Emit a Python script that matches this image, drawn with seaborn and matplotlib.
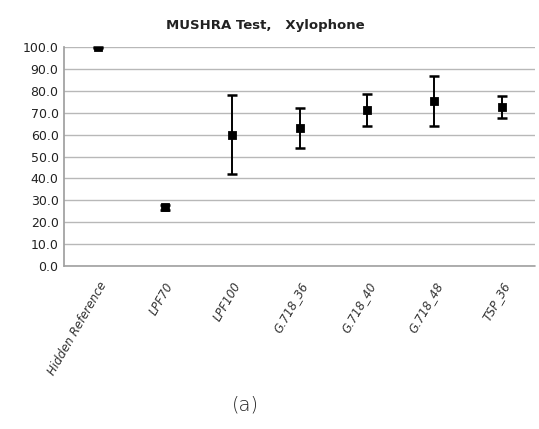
import matplotlib
matplotlib.use("Agg")
import matplotlib.pyplot as plt
import seaborn as sns
import pandas as pd
import numpy as np

categories = ["Hidden Reference", "LPF70", "LPF100", "G.718_36", "G.718_40", "G.718_48", "TSP_36"]
means = [100.0, 26.8, 60.0, 63.0, 71.4, 75.5, 72.7]
errors = [0.3, 1.2, 18.0, 9.2, 7.4, 11.5, 5.2]
yticks = [0, 10, 20, 30, 40, 50, 60, 70, 80, 90, 100]

sns.set_theme(style="white")
plt.rcParams['font.family'] = ['DejaVu Sans']

df = pd.DataFrame({"cond": categories, "score": means, "err": errors})

fig = plt.figure(figsize=(5.39, 4.29), dpi=100)
ax = fig.add_axes([0.119, 0.380, 0.874, 0.510])

sns.pointplot(data=df, x="cond", y="score", order=categories, linestyle="none",
              marker="s", markersize=4.5, color="black", errorbar=None, ax=ax, zorder=3)
ax.errorbar(np.arange(len(categories)), df["score"], yerr=df["err"], fmt="none",
            ecolor="black", elinewidth=1.4, capsize=3.6, capthick=1.8, zorder=2,
            clip_on=False)
for c in ax.collections:
    c.set_clip_on(False)

ax.set_xlim(-0.5, len(categories) - 0.5)
ax.set_ylim(0, 100)
ax.set_yticks(yticks)
ax.set_yticklabels([f"{v:.1f}" for v in yticks], fontsize=9, color="#222222")
ax.yaxis.grid(True, color="#b8b8b8", linewidth=1)
ax.xaxis.grid(False)
for s in ["top", "right", "bottom"]:
    ax.spines[s].set_visible(False)
ax.spines["left"].set_color("#a0a0a0")
ax.axhline(0, color="#a0a0a0", linewidth=1.2, zorder=1, clip_on=False)
ax.tick_params(axis="both", length=0, pad=4)
ax.set_xticks(np.arange(len(categories)))
ax.set_xticklabels(categories, rotation=60, ha="right", rotation_mode="anchor",
                   fontsize=8.5, fontstyle="italic", color="#333333")
ax.tick_params(axis="x", pad=10)
ax.set_xlabel("")
ax.set_ylabel("")

fig.text(0.492, 0.94, "MUSHRA Test,   Xylophone", ha="center", va="center",
         fontsize=9.5, fontweight="bold", color="#222222")
fig.text(0.455, 0.055, "(a)", ha="center", va="center", fontsize=14,
         fontweight="light", color="#222222")

fig.savefig("out.png", dpi=100)
